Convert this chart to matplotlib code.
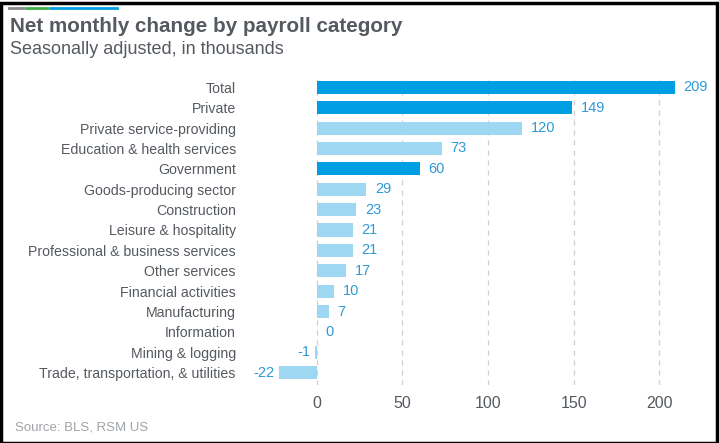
import matplotlib.pyplot as plt
from matplotlib.patches import Rectangle
from matplotlib.lines import Line2D

plt.rcParams['font.family'] = ['Liberation Sans', 'DejaVu Sans']

# Data
categories = [
    'Total', 'Private', 'Private service-providing', 'Education & health services',
    'Government', 'Goods-producing sector', 'Construction', 'Leisure & hospitality',
    'Professional & business services', 'Other services', 'Financial activities',
    'Manufacturing', 'Information', 'Mining & logging',
    'Trade, transportation, & utilities',
]
values = [209, 149, 120, 73, 60, 29, 23, 21, 21, 17, 10, 7, 0, -1, -22]
headline = ['Total', 'Private', 'Government']
x_ticks = [0, 50, 100, 150, 200]

dark = '#009fe3'
light = '#9dd7f2'
label_blue = '#2e9ad6'
grey_text = '#555a60'

W, H = 719, 443
fig = plt.figure(figsize=(W / 100, H / 100), dpi=100)
fig.patch.set_facecolor('white')

ax = fig.add_axes([274 / W, 1 - 385 / H, (685 - 274) / W, (385 - 75) / H])
y = list(range(len(categories)))
colors = [dark if c in headline else light for c in categories]
ax.barh(y, values, height=0.64, color=colors, zorder=2)

# value labels
for yi, v in zip(y, values):
    if v < 0:
        ax.text(v - 3, yi, str(v), ha='right', va='center', color=label_blue, fontsize=10.5)
    else:
        ax.text(v + 5, yi, str(v), ha='left', va='center', color=label_blue, fontsize=10.5)

ax.set_xlim(-25, 215)
ax.set_ylim(len(categories) - 0.4, -0.6)
ax.set_xticks(x_ticks)
ax.set_xticklabels([str(t) for t in x_ticks], fontsize=11.5, color=grey_text)
ax.set_yticks(y)
ax.set_yticklabels(categories, fontsize=10.2, color=grey_text)
ax.tick_params(axis='y', length=0, pad=27.5)
ax.tick_params(axis='x', length=0, pad=8)
ax.grid(axis='x', linestyle=(0, (4, 4)), color='#cfcfcf', linewidth=0.9, zorder=0)
for s in ax.spines.values():
    s.set_visible(False)

# Title, subtitle, source
fig.text(10 / W, 1 - 27 / H, 'Net monthly change by payroll category', fontsize=14.9,
         fontweight='bold', color=grey_text, va='center', ha='left')
fig.text(10 / W, 1 - 50 / H, 'Seasonally adjusted, in thousands', fontsize=13,
         color=grey_text, va='center', ha='left')
fig.text(15 / W, 1 - 428 / H, 'Source: BLS, RSM US', fontsize=9.5,
         color='#a0a4a8', va='center', ha='left')

# Decorative top lines
for x0, x1, c in [(9, 23, '#888888'), (26, 47, '#3fae49'), (50, 117, '#009fe3')]:
    fig.add_artist(Line2D([x0 / W, x1 / W], [1 - 8 / H, 1 - 8 / H], color=c, linewidth=2))

# Border
fig.add_artist(Rectangle((0.5 / W, 0.5 / H), 1 - 3 / W, 1 - 3 / H, fill=False,
                         edgecolor='black', linewidth=2.5, transform=fig.transFigure))

plt.savefig('out.png', dpi=100)
